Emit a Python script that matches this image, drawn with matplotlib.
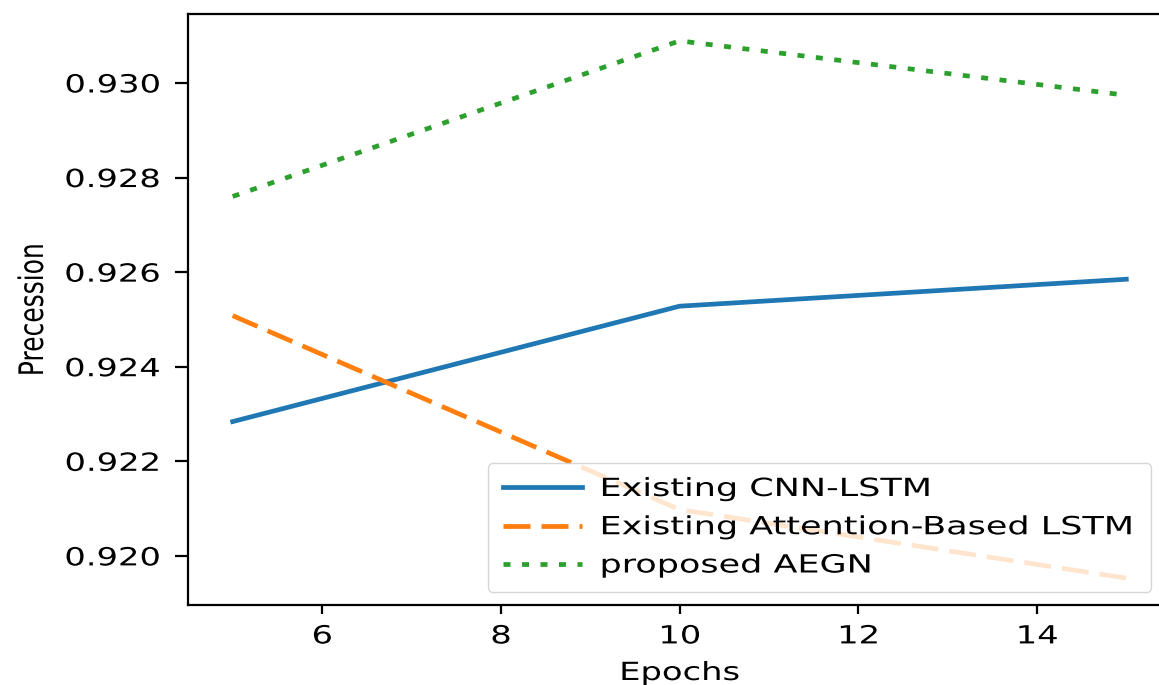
import matplotlib
matplotlib.use("Agg")
import matplotlib.pyplot as plt
from matplotlib.patheffects import AbstractPathEffect
from matplotlib.transforms import Affine2D

# ---- data ----
epochs = [5, 10, 15]
cnn_lstm = [0.92284, 0.92528, 0.92585]
attn_lstm = [0.92508, 0.92098, 0.91953]
aegn = [0.92760, 0.93089, 0.92974]
series_labels = ["Existing CNN-LSTM", "Existing Attention-Based LSTM", "proposed AEGN"]
xticks = [6, 8, 10, 12, 14]
yticks = [0.920, 0.922, 0.924, 0.926, 0.928, 0.930]
xlabel = "Epochs"
ylabel = "Precession"


class Stretch(AbstractPathEffect):
    """Draw text glyphs stretched (the text remains a real Text artist)."""

    def __init__(self, sx=1.0, sy=1.0, anchor=0.0):
        super().__init__()
        self._sx, self._sy, self._anchor = sx, sy, anchor

    def draw_path(self, renderer, gc, tpath, affine, rgbFace=None):
        v = tpath.vertices
        w = float(v[:, 0].max()) if len(v) else 0.0
        pre = (Affine2D().translate(-self._anchor * w, 0)
               .scale(self._sx, self._sy)
               .translate(self._anchor * w, 0))
        renderer.draw_path(gc, tpath, pre + affine, rgbFace)


SX = 1.35
FS = 18

W, H = 1159, 685
fig = plt.figure(figsize=(W / 100, H / 100), dpi=100)
fig.patch.set_facecolor("white")
ax = fig.add_axes([188 / W, (H - 605) / H, 983 / W, 591 / H])

lw = 3.4
px = lw * 100 / 72.0
ax.plot(epochs, cnn_lstm, color="#1f77b4", lw=lw, linestyle="-", label=series_labels[0])
ax.plot(epochs, attn_lstm, color="#ff7f0e", lw=lw,
        linestyle=(0, (27 / px, 11 / px)), label=series_labels[1])
ax.plot(epochs, aegn, color="#2ca02c", lw=lw,
        linestyle=(0, (7 / px, 11.5 / px)), label=series_labels[2])

ax.set_xticks(xticks)
ax.set_yticks(yticks)
ax.set_yticklabels([f"{v:.3f}" for v in yticks])
ax.set_xticklabels([str(v) for v in xticks])

for s in ax.spines.values():
    s.set_linewidth(1.6)
ax.tick_params(axis="y", length=13 * 0.72, width=1.6, pad=10.5, labelsize=FS)
ax.tick_params(axis="x", length=9 * 0.72, width=1.6, pad=7.5, labelsize=FS)

ax.set_xlabel(xlabel, fontsize=FS)
ax.set_ylabel(ylabel, fontsize=FS)
ax.xaxis.set_label_coords(0.5, (605 - 661) / 591)
ax.yaxis.set_label_coords((48 - 188) / 983, 0.5)

leg = ax.legend(loc="lower left",
                bbox_to_anchor=(488 / W, (H - 592) / H, (1151 - 488) / W, 0.18),
                bbox_transform=fig.transFigure, mode="expand", borderaxespad=0,
                fontsize=FS, handlelength=3.16, handletextpad=0.72,
                labelspacing=0.57, borderpad=0.58)

fig.canvas.draw()
for t in ax.get_yticklabels():
    t.set_path_effects([Stretch(SX, 1.0, 1.0)])
for t in ax.get_xticklabels():
    t.set_path_effects([Stretch(SX, 1.0, 0.5)])
ax.xaxis.label.set_path_effects([Stretch(SX, 1.0, 0.5)])
ax.yaxis.label.set_path_effects([Stretch(1.0, SX, 0.5)])
for t in leg.get_texts():
    t.set_path_effects([Stretch(1.4, 1.0, 0.0)])

fig.savefig("out.png", dpi=100)
